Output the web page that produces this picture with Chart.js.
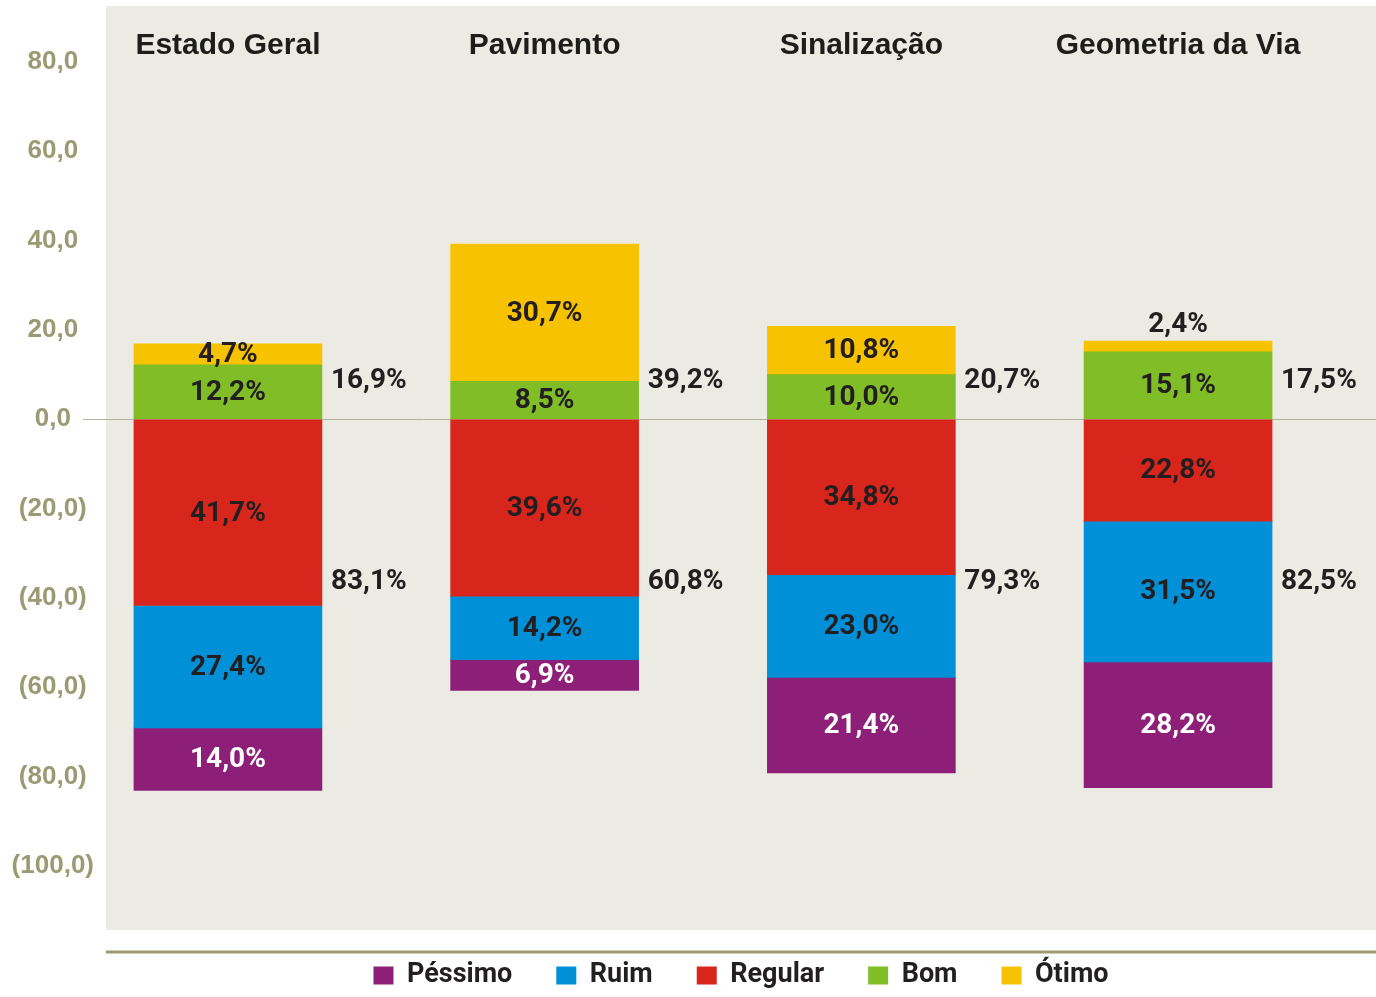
<!DOCTYPE html>
<html>
<head>
<meta charset="utf-8">
<script src="https://cdn.jsdelivr.net/npm/chart.js@4/dist/chart.umd.min.js"></script>
<style>
  html, body { margin: 0; padding: 0; background: #ffffff; }
  #wrap { width: 1376px; height: 997px; }
</style>
</head>
<body>
<div id="wrap"><canvas id="chart" width="1376" height="997"></canvas></div>
<script>
// Categories and values (percent), negatives drawn below zero
const categories = ['Estado Geral', 'Pavimento', 'Sinalização', 'Geometria da Via'];
const pessimo = [-14.0, -6.9, -21.4, -28.2];
const ruim = [-27.4, -14.2, -23.0, -31.5];
const regular = [-41.7, -39.6, -34.8, -22.8];
const bom = [12.2, 8.5, 10.0, 15.1];
const otimo = [4.7, 30.7, 10.8, 2.4];
const positiveTotals = [16.9, 39.2, 20.7, 17.5];
const negativeTotals = [83.1, 60.8, 79.3, 82.5];
const yTicks = [80, 60, 40, 20, 0, -20, -40, -60, -80, -100];
const legendOrder = ['Péssimo', 'Ruim', 'Regular', 'Bom', 'Ótimo'];

const COND = 'Roboto, "DejaVu Sans Condensed", sans-serif';
const SANS = '"Liberation Sans", Arial, Helvetica, sans-serif';

function pct(v) {
    return Math.abs(v).toFixed(1).replace('.', ',') + '%';
}

function toPoints(arr) {
    return arr.map((v, i) => ({ x: i, y: v }));
}

// Beige plot background + bottom rule
const backdrop = {
    id: 'backdrop',
    beforeDraw(chart) {
        const { ctx, chartArea: a } = chart;
        ctx.save();
        ctx.fillStyle = '#ecebe3';
        ctx.fillRect(a.left, a.top, a.right - a.left, a.bottom - a.top + 12);
        ctx.restore();
    },
    afterDraw(chart) {
        const { ctx, chartArea: a } = chart;
        ctx.save();
        ctx.strokeStyle = '#9d9b74';
        ctx.lineWidth = 3;
        ctx.beginPath();
        ctx.moveTo(a.left, a.bottom + 34);
        ctx.lineTo(a.right, a.bottom + 34);
        ctx.stroke();
        ctx.restore();
    }
};

// Segment values, totals and category titles
const labels = {
    id: 'labels',
    afterDatasetsDraw(chart) {
        const { ctx, chartArea: a, scales } = chart;
        ctx.save();
        ctx.textAlign = 'center';
        ctx.textBaseline = 'middle';
        ctx.font = 'bold 28px ' + COND;
        chart.data.datasets.forEach((ds, d) => {
            const meta = chart.getDatasetMeta(d);
            meta.data.forEach((bar, i) => {
                const v = ds.data[i].y;
                const top = Math.min(bar.y, bar.base);
                const h = Math.abs(bar.base - bar.y);
                let y = (bar.y + bar.base) / 2;
                if (h < 16) y = top - 17;
                ctx.fillStyle = (ds.label === 'Péssimo') ? '#ffffff' : '#231f20';
                ctx.fillText(pct(v), bar.x, y + 1);
            });
        });

        // totals to the right of each bar
        const meta0 = chart.getDatasetMeta(0);
        ctx.textAlign = 'left';
        ctx.fillStyle = '#231f20';
        categories.forEach((c, i) => {
            const bar = meta0.data[i];
            const right = bar.x + bar.width / 2 + 9;
            ctx.fillText(pct(positiveTotals[i]), right, scales.y.getPixelForValue(8.6));
            ctx.fillText(pct(negativeTotals[i]), right, scales.y.getPixelForValue(-36.4));
        });

        // category titles
        ctx.textAlign = 'center';
        ctx.font = 'bold 30px ' + SANS;
        ctx.fillStyle = '#1d1d1b';
        categories.forEach((c, i) => {
            ctx.fillText(c, scales.x.getPixelForValue(i), a.top + 40);
        });
        ctx.restore();
    }
};

new Chart(document.getElementById('chart'), {
    type: 'bar',
    data: {
        datasets: [
            { label: 'Regular', data: toPoints(regular), backgroundColor: '#d9261c' },
            { label: 'Ruim', data: toPoints(ruim), backgroundColor: '#0090d8' },
            { label: 'Péssimo', data: toPoints(pessimo), backgroundColor: '#8e1f78' },
            { label: 'Bom', data: toPoints(bom), backgroundColor: '#80bd26' },
            { label: 'Ótimo', data: toPoints(otimo), backgroundColor: '#f7c200' }
        ]
    },
    options: {
        responsive: false,
        animation: false,
        datasets: { bar: { barThickness: 188, borderWidth: 0 } },
        layout: { padding: { top: 6, left: 0, right: 0, bottom: -2 } },
        scales: {
            x: {
                type: 'linear',
                stacked: true,
                offset: false,
                min: -0.385,
                max: 3.625,
                display: false
            },
            y: {
                stacked: true,
                min: -111.65,
                max: 92.5,
                afterBuildTicks: (scale) => {
                    scale.ticks = yTicks.slice().sort((p, q) => p - q).map(v => ({ value: v }));
                },
                afterFit: (scale) => { scale.width = 106; },
                border: { display: false },
                grid: {
                    color: (c) => c.tick && c.tick.value === 0 ? '#b4b29a' : 'rgba(0,0,0,0)',
                    lineWidth: 1,
                    tickLength: 23
                },
                ticks: {
                    crossAlign: 'center',
                    padding: -11,
                    color: '#9b9a73',
                    font: { family: SANS, size: 26, weight: 'bold' },
                    callback: (v) => v < 0
                        ? '(' + Math.abs(v).toFixed(1).replace('.', ',') + ')'
                        : v.toFixed(1).replace('.', ',')
                }
            }
        },
        plugins: {
            legend: {
                position: 'bottom',
                fullSize: false,
                labels: {
                    boxWidth: 20,
                    boxHeight: 18,
                    padding: 44,
                    color: '#231f20',
                    font: { family: COND, size: 27, weight: 'bold' },
                    sort: (a, b) => legendOrder.indexOf(a.text) - legendOrder.indexOf(b.text)
                }
            },
            tooltip: { enabled: false }
        }
    },
    plugins: [backdrop, labels]
});
</script>
</body>
</html>
